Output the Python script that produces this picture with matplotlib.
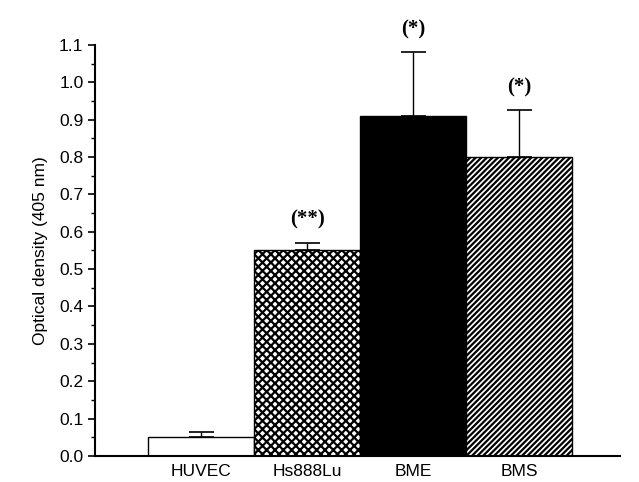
import matplotlib
matplotlib.use('Agg')
import matplotlib.pyplot as plt
from matplotlib.ticker import MultipleLocator

# values
cells = ['HUVEC', 'Hs888Lu', 'BME', 'BMS']
od = [0.05, 0.55, 0.91, 0.80]
err = [0.015, 0.02, 0.17, 0.125]
marks = ['', '(**)', '(*)', '(*)']

plt.rcParams['font.family'] = ['Liberation Sans', 'DejaVu Sans']
plt.rcParams['hatch.linewidth'] = 1.6

fig = plt.figure(figsize=(6.39, 4.82), dpi=100)
ax = fig.add_axes([0.149, 0.054, 0.821, 0.853])

pos = [1, 2, 3, 4]
colors = ['white', 'white', 'black', 'white']
hatches = [None, 'xxxx', None, '//////']
for p, v, c, h in zip(pos, od, colors, hatches):
    ax.bar(p, v, width=1.0, color=c, edgecolor='black', linewidth=1.0, hatch=h)

ax.errorbar(pos, od, yerr=[[0] * 4, err], fmt='none', ecolor='black',
            elinewidth=1.0, capsize=9, capthick=1.2)

for p, v, e, m in zip(pos, od, err, marks):
    if m:
        ax.text(p, v + e + 0.035, m, ha='center', va='bottom', fontsize=15,
                fontweight='bold', family='Liberation Serif')

ax.set_xlim(0, 4.95)
ax.set_ylim(0, 1.1)
ax.yaxis.set_major_locator(MultipleLocator(0.1))
ax.yaxis.set_minor_locator(MultipleLocator(0.05))
ax.yaxis.set_major_formatter(plt.FormatStrFormatter('%.1f'))
ax.set_xticks(pos)
ax.set_xticklabels(cells, fontsize=12.5)
ax.tick_params(axis='x', length=0, pad=6)
ax.tick_params(axis='y', which='major', length=5, width=1.2, labelsize=12.5)
ax.tick_params(axis='y', which='minor', length=3, width=1.0)
ax.spines['top'].set_visible(False)
ax.spines['right'].set_visible(False)
ax.spines['left'].set_linewidth(1.5)
ax.spines['bottom'].set_linewidth(1.5)
ax.set_ylabel('Optical density (405 nm)', fontsize=12.5, labelpad=8)

fig.savefig('out.png', dpi=100)
